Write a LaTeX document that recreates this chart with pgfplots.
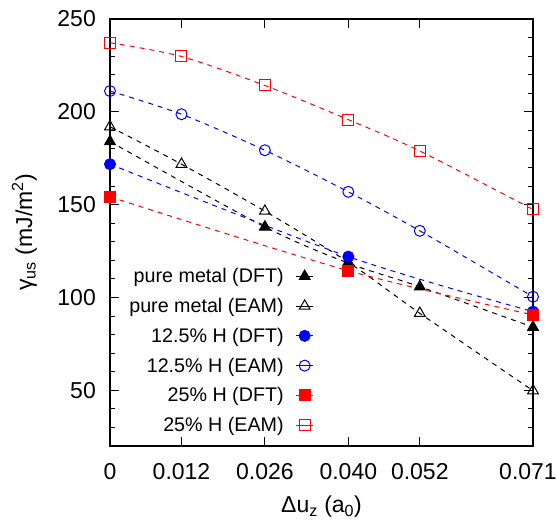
\documentclass[border=0pt]{standalone}
\usepackage{fontspec}
\setmainfont{Liberation Sans}
\usepackage{pgfplots}
\pgfplotsset{compat=1.18}
\begin{document}
\begin{tikzpicture}
\begin{axis}[
  scale only axis, width=423bp, height=427bp,
  xmin=0, xmax=0.071, ymin=20, ymax=250,
  clip=false,
  scaled x ticks=false,
  axis line style={line width=1.5bp},
  xtick={0,0.012,0.026,0.040,0.052,0.071},
  xticklabels={0,0.012,0.026,0.040,0.052,\kern-10bp 0.071},
  ytick={50,100,150,200,250},
  minor ytick={30,40,60,70,80,90,110,120,130,140,160,170,180,190,210,220,230,240},
  tick align=inside,
  major tick length=9bp, minor tick length=5bp,
  every tick/.style={black, line width=1bp},
  /pgf/number format/assume math mode=true,
  ticklabel style={font=\fontsize{23bp}{27bp}\selectfont, inner sep=0pt},
  xticklabel shift=17bp, yticklabel shift=14bp,
  xlabel={Δu\textsubscript{z} (a\textsubscript{0})},
  ylabel={γ\textsubscript{us} (mJ/m\textsuperscript{2})},
  label style={font=\fontsize{23bp}{27bp}\selectfont, inner sep=0pt},
  xlabel style={at={(axis description cs:0.5,-0.117)}, anchor=north},
  ylabel style={at={(axis description cs:-0.1726,0.5)}, anchor=south},
  legend style={draw=none, fill=none, inner sep=0pt,
    at={(axis description cs:0.482,0.421)}, anchor=north east,
    font=\fontsize{19.7bp}{23.6bp}\selectfont,
    row sep=10bp, column sep=10bp, nodes={inner sep=2bp}},
  legend cell align=right,
  legend plot pos=right,
  legend image code/.code={\draw[mark repeat=2,mark phase=2,#1,solid] plot coordinates {(0bp,0bp) (8.5bp,0bp) (17bp,0bp)};},
  every axis plot/.append style={line width=1bp, dash pattern=on 5bp off 5bp, smooth, mark options={solid, line width=1bp}},
]
\addplot[black, mark=triangle*, mark size=6.2bp] coordinates {(0,184)(0.026,138)(0.040,118.5)(0.052,105.8)(0.071,84)};
\addlegendentry{pure metal (DFT)}
\addplot[black, mark=triangle, mark size=6.2bp] coordinates {(0,192)(0.012,171.8)(0.026,146.5)(0.040,119)(0.052,91.5)(0.071,49.8)};
\addlegendentry{pure metal (EAM)}
\addplot[blue, mark=*, mark size=5.5bp] coordinates {(0,171.8)(0.040,122)(0.071,92.4)};
\addlegendentry{12.5\% H (DFT)}
\addplot[blue, mark=o, mark size=5.5bp] coordinates {(0,211.2)(0.012,198.7)(0.026,179.3)(0.040,156.9)(0.052,135.9)(0.071,100.4)};
\addlegendentry{12.5\% H (EAM)}
\addplot[red, mark=square*, mark size=5.5bp] coordinates {(0,154.2)(0.040,114.4)(0.071,90.6)};
\addlegendentry{25\% H (DFT)}
\addplot[red, mark=square, mark size=5.5bp] coordinates {(0,237.2)(0.012,229.8)(0.026,214.2)(0.040,195.8)(0.052,178.9)(0.071,147.4)};
\addlegendentry{25\% H (EAM)}
\end{axis}
\pgfresetboundingbox
\path[use as bounding box] ([shift={(-110bp,-75bp)}]current axis.south west) rectangle ([shift={(24bp,19bp)}]current axis.north east);
\end{tikzpicture}
\end{document}
